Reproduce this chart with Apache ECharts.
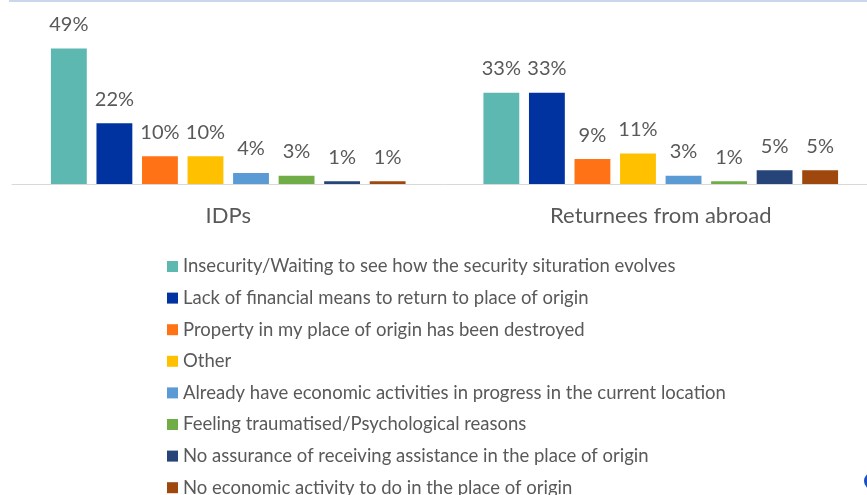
<!DOCTYPE html>
<html>
<head>
<meta charset="utf-8">
<script src="https://cdn.jsdelivr.net/npm/echarts@6/dist/echarts.min.js"></script>
<style>
  html, body { margin: 0; padding: 0; background: #fff; overflow: hidden; }
  #chart { width: 877px; height: 495px; }
</style>
</head>
<body>
<div id="chart"></div>
<script>
// categories on the x axis
var groups = ['IDPs', 'Returnees from abroad'];
// reasons (one series each)
var reasons = [
  'Insecurity/Waiting to see how the security situration evolves',
  'Lack of financial means to return to place of origin',
  'Property in my place of origin has been destroyed',
  'Other',
  'Already have economic activities in progress in the current location',
  'Feeling traumatised/Psychological reasons',
  'No assurance of receiving assistance in the place of origin',
  'No economic activity to do in the place of origin'
];
// percentages per reason: [IDPs, Returnees]
var insecurity = [49, 33];
var lackFinancial = [22, 33];
var propertyDestroyed = [10, 9];
var other = [10, 11];
var economicActivities = [4, 3];
var traumatised = [3, 1];
var noAssurance = [1, 5];
var noEconomicActivity = [1, 5];

var values = [insecurity, lackFinancial, propertyDestroyed, other,
  economicActivities, traumatised, noAssurance, noEconomicActivity];
var colors = ['#5db8b2', '#0033a0', '#ff7316', '#ffc000',
  '#5b9bd5', '#70ad47', '#264478', '#9e480e'];

var font = 'Lato, "Open Sans", sans-serif';
var textGray = '#595959';

var series = [];
for (var i = 0; i < reasons.length; i++) {
  series.push({
    name: reasons[i],
    type: 'bar',
    data: values[i],
    barGap: '27%',
    barCategoryGap: '18%',
    itemStyle: { color: colors[i] },
    label: {
      show: true,
      position: 'top',
      distance: 14,
      formatter: '{c}%',
      color: textGray,
      fontFamily: font,
      fontSize: 20
    }
  });
}

var myChart = echarts.init(document.getElementById('chart'));
myChart.setOption({
  animation: false,
  color: colors,
  grid: { left: 12, top: 18, right: 0, bottom: 311, containLabel: false },
  xAxis: {
    type: 'category',
    data: groups,
    axisLine: { lineStyle: { color: '#d9d9d9', width: 1 } },
    axisTick: { show: false },
    axisLabel: { color: textGray, fontFamily: font, fontSize: 22, margin: 21 }
  },
  yAxis: {
    type: 'value',
    min: 0,
    max: 60,
    show: false
  },
  legend: {
    orient: 'vertical',
    left: 167,
    top: 257,
    height: 300,
    padding: 0,
    itemWidth: 11,
    itemHeight: 11,
    itemGap: 12.6,
    icon: 'rect',
    textStyle: { color: textGray, fontFamily: font, fontSize: 18.5, lineHeight: 19, padding: [0, 0, 0, 0] },
    data: reasons
  },
  graphic: [
    {
      type: 'rect',
      shape: { x: 9, y: 0, width: 870, height: 2 },
      style: { fill: '#c9d6ec' }
    },
    {
      type: 'circle',
      shape: { cx: 873, cy: 481, r: 9 },
      style: { fill: '#1a4fc4' }
    }
  ],
  series: series
});
</script>
</body>
</html>
